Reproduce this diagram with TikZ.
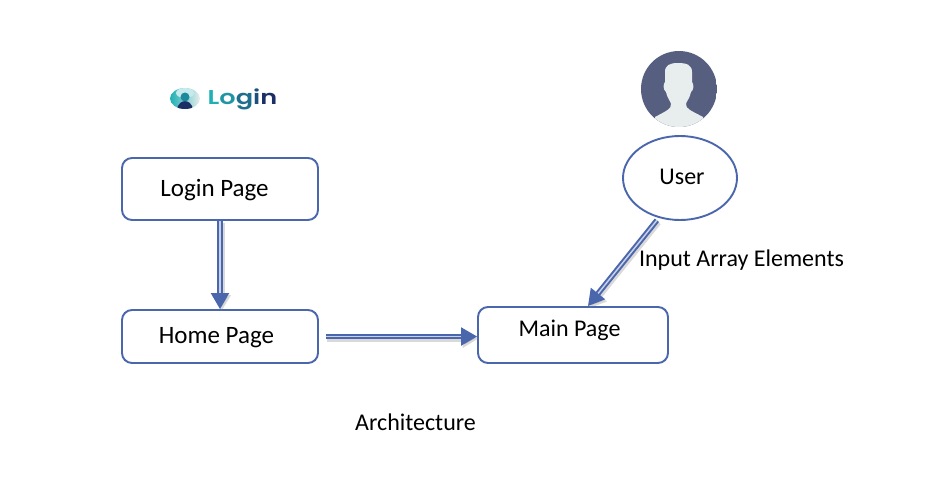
\documentclass[tikz,border=0pt]{standalone}
\usepackage{fontspec}
\setmainfont{Carlito}
\newfontfamily\logofont[FakeStretch=1.28]{Poppins SemiBold}
\usetikzlibrary{arrows.meta,shapes.geometric,calc}
\definecolor{boxblue}{HTML}{4A66AC}
\definecolor{avatar}{HTML}{575F81}
\definecolor{skin}{HTML}{E8EDED}
\definecolor{teal1}{HTML}{1FB0B4}
\definecolor{navy1}{HTML}{1B2F66}
\tikzset{
  pagebox/.style={draw=boxblue,line width=1.9pt,rounded corners=10pt,fill=white,inner sep=0pt},
  usershape/.style={ellipse,draw=boxblue,line width=1.9pt,fill=white,inner sep=0pt,minimum width=114pt,minimum height=84pt},
  lbl/.style={font=\fontsize{24}{28}\selectfont,text=black,inner sep=0pt,anchor=center},
  lblbig/.style={lbl,font=\fontsize{25}{29}\selectfont},
  flow/.style={draw=boxblue,double=white!70!boxblue,double distance=1.5pt,line width=2pt,
    -{Triangle[length=16pt,width=18pt,fill=boxblue]},
    preaction={draw=black!50,opacity=.3,line width=6pt,-{Triangle[length=16pt,width=18pt]},transform canvas={shift={(1.5pt,-2pt)}}}},
}
\begin{document}
\begin{tikzpicture}[x=1pt,y=-1pt]
\useasboundingbox (0,0) rectangle (926,485);
% logo
\begin{scope}
  \clip (185,98.5) ellipse [x radius=15,y radius=10.5];
  \shade[left color=teal1,right color=skin] (170,87) rectangle (200,110);
  \fill[white!75!teal1] (185,93) ellipse [x radius=9,y radius=5];
  \fill[navy1] (185,101) .. controls (177,102) and (177,110) .. (177,110) -- (193,110) .. controls (193,110) and (193,102) .. (185,101) -- cycle;
  \fill[teal1!70!navy1] (185,97) circle [radius=4.5];
\end{scope}
\node[inner sep=0pt,anchor=west,font=\logofont\fontsize{20}{24}\selectfont] (logo) at (207.5,99.5)
  {\textcolor{teal1}{L}\textcolor{teal1!80!navy1}{o}\textcolor{teal1!50!navy1}{g}\textcolor{teal1!25!navy1}{i}\textcolor{navy1}{n}};
% avatar
\begin{scope}
  \clip (679,89) circle [radius=38];
  \fill[avatar] (641,51) rectangle (717,127);
  \fill[skin] (665,72) .. controls (665,65) and (670,63) .. (678,63)
    .. controls (687,63) and (692,65) .. (692,72)
    -- (692,82) .. controls (694,84) and (694,90) .. (691,92)
    .. controls (690,98) and (686,102) .. (686,104)
    .. controls (686,109) and (690,110) .. (703,117)
    -- (703,130) -- (655,130) -- (655,117)
    .. controls (668,110) and (671,109) .. (671,104)
    .. controls (671,102) and (667,98) .. (666,92)
    .. controls (663,90) and (663,84) .. (665,82) -- cycle;
\end{scope}
% boxes
\node[pagebox,minimum width=196pt,minimum height=62pt] (login) at (220,189) {};
\node[pagebox,minimum width=196pt,minimum height=53pt] (home) at (220,336.5) {};
\node[pagebox,minimum width=190pt,minimum height=56pt] (main) at (573,335) {};
\node[usershape] (user) at (680,178) {};
\coordinate (mainin) at (588,306);
% connectors
\draw[flow,shorten >=0pt] (login.south) -- (home.north);
\draw[flow,shorten <=7pt] (home.east) -- (home.east -| main.west);
\draw[flow,shorten <=3pt] (user.-118) -- (mainin);
% labels
\node[lblbig] (t1) at (214.5,190.5) {Login Page};
\node[lblbig] (t2) at (216.5,337.5) {Home Page};
\node[lbl] (t3) at (569.5,330) {Main Page};
\node[lbl] (t4) at (682,176.5) {User};
\node[lbl] (t5) at (741.5,260.5) {Input Array Elements};
\node[lbl] (t6) at (415.5,422.5) {Architecture};
\end{tikzpicture}
\end{document}
